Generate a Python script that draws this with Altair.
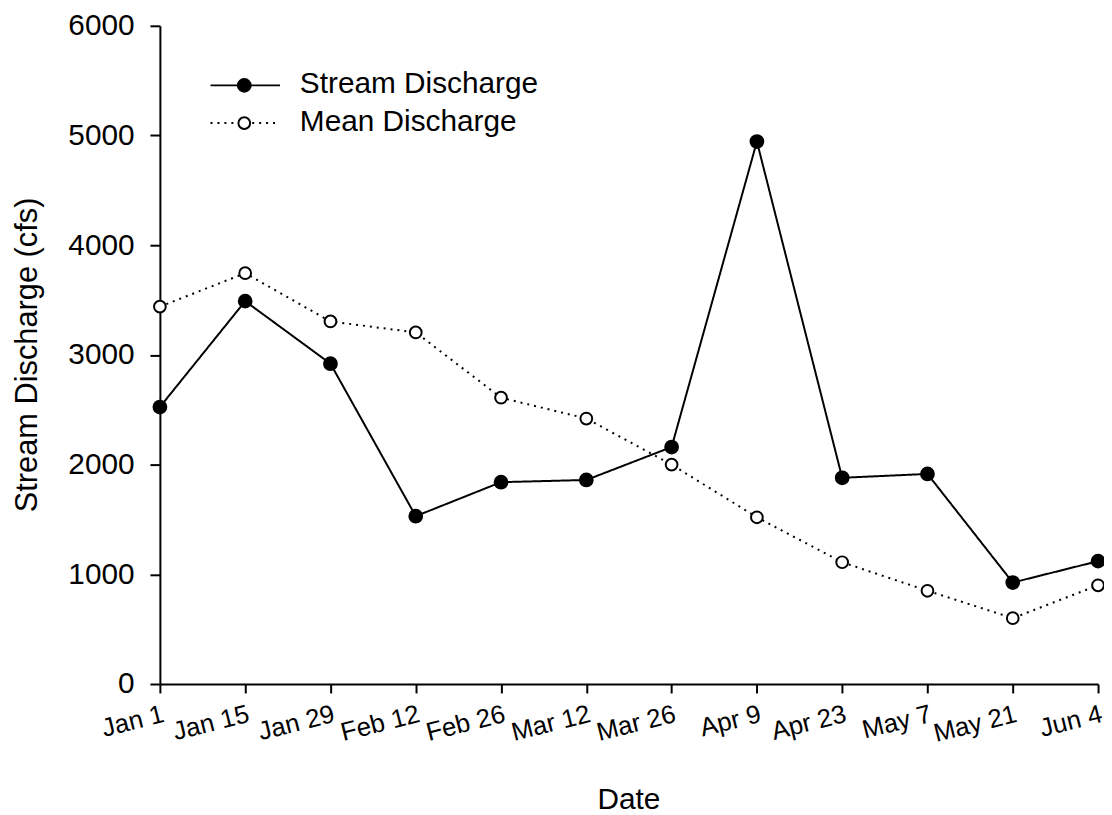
import altair as alt
import pandas as pd

# ---- data ----
dates = ["Jan 1", "Jan 15", "Jan 29", "Feb 12", "Feb 26", "Mar 12",
         "Mar 26", "Apr 9", "Apr 23", "May 7", "May 21", "Jun 4"]
stream_discharge = [2525, 3490, 2920, 1530, 1840, 1860, 2160, 4945, 1880, 1915, 925, 1120]
mean_discharge = [3440, 3745, 3305, 3205, 2610, 2420, 2000, 1520, 1110, 850, 600, 900]
series = ["Stream Discharge", "Mean Discharge"]
y_ticks = [0, 1000, 2000, 3000, 4000, 5000, 6000]

rows = []
for d, v in zip(dates, mean_discharge):
    rows.append({"date": d, "value": v, "series": series[1]})
for d, v in zip(dates, stream_discharge):
    rows.append({"date": d, "value": v, "series": series[0]})
df = pd.DataFrame(rows)
legend_df = pd.DataFrame({"series": series})

FONT = "Liberation Sans"

dash_scale = alt.Scale(domain=series, range=[[1, 0], [2, 5]])
fill_scale = alt.Scale(domain=series, range=["black", "white"])
size_scale = alt.Scale(domain=series, range=[165, 140])

x_enc = alt.X(
    "date:N",
    sort=dates,
    scale=alt.Scale(type="point", padding=0),
    axis=alt.Axis(
        title="Date",
        grid=False,
        labelAngle=346,
        labelAlign="right",
        labelBaseline="top",
        labelPadding=8,
        labelFontSize=26,
        tickSize=9,
        titleFontSize=30,
        titleFontWeight="normal",
        titleX=472,
        titleY=125,
        titleAlign="center",
        titleBaseline="alphabetic",
        labelOverlap=False,
    ),
)
y_enc = alt.Y(
    "value:Q",
    scale=alt.Scale(domain=[0, 6000], nice=False),
    axis=alt.Axis(
        title="Stream Discharge (cfs)",
        grid=False,
        values=y_ticks,
        format="d",
        labelFontSize=30,
        labelPadding=16,
        tickSize=10,
        titleFontSize=31,
        titleFontWeight="normal",
        titleAngle=270,
        titleX=-133,
        titleY=331,
        titleAlign="center",
        titleBaseline="middle",
    ),
)

base = alt.Chart(df).encode(x=x_enc, y=y_enc)

lines = base.mark_line(color="black", strokeWidth=2).encode(
    strokeDash=alt.StrokeDash("series:N", scale=dash_scale, legend=None)
)
points = base.mark_circle(stroke="black", strokeWidth=2, opacity=1).encode(
    fill=alt.Fill("series:N", scale=fill_scale, legend=None),
    size=alt.Size("series:N", scale=size_scale, legend=None),
)
main = alt.layer(lines, points)

# ---- hand-built legend (top-left, as in the reference) ----
leg_y = alt.Y(
    "series:N",
    scale=alt.Scale(type="point", domain=series, range=[60, 98], padding=0),
    axis=None,
)
leg_base = alt.Chart(legend_df).encode(y=leg_y)
leg_rule = leg_base.mark_rule(color="black", strokeWidth=2).encode(
    x=alt.value(51), x2=alt.value(121),
    strokeDash=alt.StrokeDash("series:N", scale=dash_scale, legend=None),
)
leg_pts = leg_base.mark_circle(stroke="black", strokeWidth=2, opacity=1).encode(
    x=alt.value(85),
    fill=alt.Fill("series:N", scale=fill_scale, legend=None),
    size=alt.Size("series:N", scale=size_scale, legend=None),
)
leg_text = leg_base.mark_text(
    align="left", baseline="alphabetic", dy=8, fontSize=30, font=FONT, color="black"
).encode(x=alt.value(141), text="series:N")
legend = alt.layer(leg_rule, leg_pts, leg_text)

chart = (
    alt.layer(main, legend)
    .resolve_scale(y="independent")
    .properties(
        width=945,
        height=663,
        background="white",
        autosize=alt.AutoSizeParams(type="none"),
        padding={"left": 153, "top": 15, "right": 6, "bottom": 129},
    )
    .configure_view(stroke=None)
    .configure_axis(
        grid=False,
        domainColor="black",
        domainWidth=2,
        tickColor="black",
        tickWidth=2,
        labelColor="black",
        titleColor="black",
        labelFont=FONT,
        titleFont=FONT,
        titleFontWeight="normal",
    )
)

chart.save("out.html", embed_options={"renderer": "svg", "actions": False})
